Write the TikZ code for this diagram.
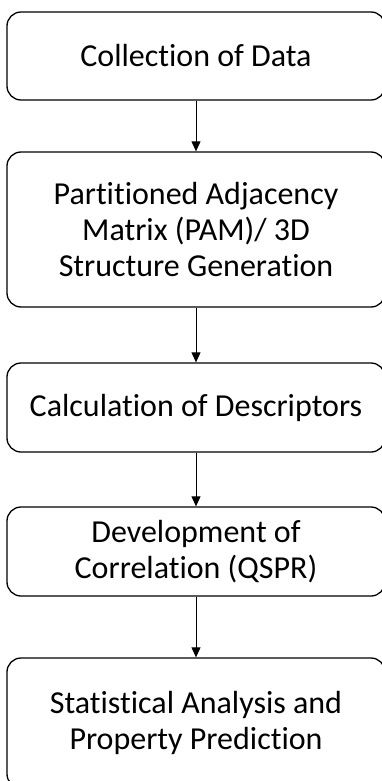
\documentclass[tikz,border=0pt]{standalone}
\usepackage{fontspec}
\setmainfont{Carlito}[RawFeature=-liga]
\usetikzlibrary{arrows.meta}
\begin{document}
\begin{tikzpicture}[x=1pt,y=-1pt,
  stepbox/.style={draw=black, line width=1.3pt, rounded corners=14pt, minimum width=378pt, inner sep=0pt, align=center, font=\fontsize{32}{36}\selectfont},
  flow/.style={draw=black, line width=0.9pt, -{Triangle[length=10pt,width=9pt]}}]
\useasboundingbox (0,0) rectangle (381,781);
\node[stepbox, minimum height=88pt] (b1) at (196,56) {Collection of Data};
\node[stepbox, minimum height=155pt] (b2) at (196,229.5) {Partitioned Adjacency\\Matrix (PAM)/ 3D\\Structure Generation};
\node[stepbox, minimum height=89pt] (b3) at (196,407.5) {Calculation of Descriptors};
\node[stepbox, minimum height=89pt] (b4) at (196,551.5) {Development of\\Correlation (QSPR)};
\node[stepbox, minimum height=130pt] (b5) at (196,723) {Statistical Analysis and\\Property Prediction};
\draw[flow] (b1) -- (b2);
\draw[flow] (b2) -- (b3);
\draw[flow] (b3) -- (b4);
\draw[flow] (b4) -- (b5);
\end{tikzpicture}
\end{document}
